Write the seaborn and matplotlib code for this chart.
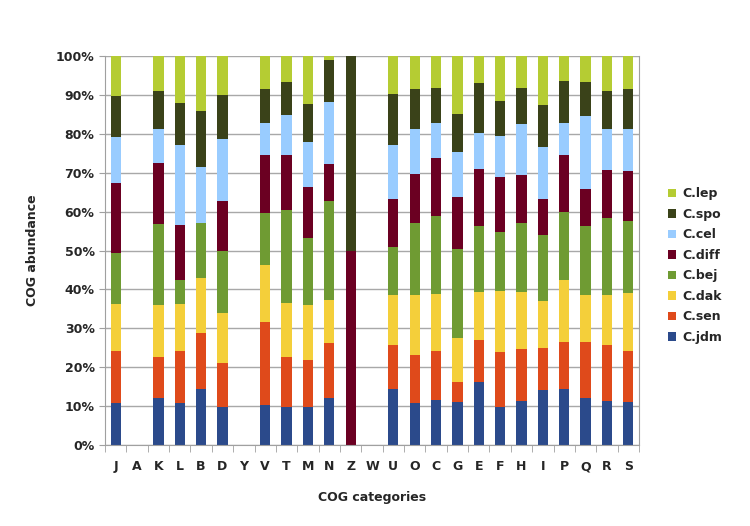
import pandas as pd
import matplotlib
matplotlib.use("Agg")
import matplotlib.pyplot as plt
from matplotlib.patches import Patch
import seaborn as sns

# COG categories (x axis)
categories = ["J", "A", "K", "L", "B", "D", "Y", "V", "T", "M", "N", "Z", "W",
              "U", "O", "C", "G", "E", "F", "H", "I", "P", "Q", "R", "S"]

# percent of each species per category
jdm  = [10.9, 0, 12.2, 10.9, 14.4,  9.8, 0, 10.3,  9.8,  9.8, 12.2,  0, 0, 14.4, 10.7, 11.5, 11.1, 16.1,  9.8, 11.4, 14.1, 14.4, 12.1, 11.4, 11.1]
sen  = [13.3, 0, 10.5, 13.3, 14.3, 11.4, 0, 21.4, 12.9, 12.1, 14.0,  0, 0, 11.3, 12.5, 12.7,  5.0, 10.8, 14.1, 13.2, 10.8, 12.1, 14.4, 14.3, 13.1]
dak  = [12.0, 0, 13.2, 12.0, 14.3, 12.8, 0, 14.7, 13.9, 14.0, 11.2,  0, 0, 12.8, 15.3, 14.7, 11.3, 12.4, 15.7, 14.7, 12.1, 15.9, 12.0, 12.8, 15.0]
bej  = [13.2, 0, 21.0,  6.1, 14.2, 15.8, 0, 13.2, 23.7, 17.3, 25.2,  0, 0, 12.4, 18.5, 19.9, 23.1, 16.9, 15.1, 17.7, 16.9, 17.5, 17.7, 19.9, 18.5]
diff = [18.0, 0, 15.7, 14.2,  0.0, 13.0, 0, 14.9, 14.2, 13.0,  9.7, 50, 0, 12.3, 12.7, 15.0, 13.2, 14.7, 14.3, 12.3,  9.3, 14.6,  9.7, 12.4, 12.7]
cel  = [11.7, 0,  8.7, 20.7, 14.3, 15.9, 0,  8.4, 10.3, 11.7, 15.8,  0, 0, 14.0, 11.6,  9.0, 11.6,  9.4, 10.5, 13.2, 13.3,  8.3, 18.8, 10.5, 10.9]
spo  = [10.5, 0,  9.7, 10.8, 14.4, 11.3, 0,  8.6,  8.5,  9.8, 10.9, 50, 0, 13.1, 10.2,  9.1,  9.8, 12.7,  9.0,  9.4, 10.9, 10.9,  8.6,  9.7, 10.2]
lep  = [10.4, 0,  9.0, 12.0, 14.1, 10.0, 0,  8.5,  6.7, 12.3,  1.0,  0, 0,  9.7,  8.5,  8.1, 14.9,  7.0, 11.5,  8.1, 12.6,  6.3,  6.7,  9.0,  8.5]

# legend order, top to bottom (histplot stacks the last level at the bottom)
species = ["C.lep", "C.spo", "C.cel", "C.diff", "C.bej", "C.dak", "C.sen", "C.jdm"]
colors = ["#B5CC33", "#3A4219", "#99CCFF", "#6B0022", "#6F9B33", "#F4CF3A", "#DF4A1B", "#2B4A8B"]
series = [lep, spo, cel, diff, bej, dak, sen, jdm]

rows = []
for name, vals in zip(species, series):
    for cat, v in zip(categories, vals):
        rows.append({"cat": cat, "species": name, "value": v})
df = pd.DataFrame(rows)
df["cat"] = pd.Categorical(df["cat"], categories=categories, ordered=True)
df["x"] = df["cat"].cat.codes

sns.set_style("white")
plt.rcParams["font.family"] = ["DejaVu Sans"]

fig = plt.figure(figsize=(7.5, 5.26), dpi=100)
ax = fig.add_axes([0.14, 0.154, 0.712, 0.7395])

sns.histplot(data=df, x="x", weights="value", hue="species", hue_order=species,
             palette=colors, multiple="stack", discrete=True, shrink=0.48,
             alpha=1, linewidth=0, legend=False, ax=ax)

ax.set_xlim(-0.5, len(categories) - 0.5)
ax.set_ylim(0, 100)
ax.set_yticks(range(0, 101, 10))
ax.set_yticklabels([f"{t}%" for t in range(0, 101, 10)], fontsize=9, fontweight="bold")
ax.set_xticks(range(len(categories)))
ax.set_xticklabels(categories, fontsize=9, fontweight="bold")
ax.tick_params(axis="x", length=0, pad=11)
ax.tick_params(axis="y", length=4, color="#A0A0A0", direction="out", left=True)

# tick marks between categories
ax.set_xticks([i - 0.5 for i in range(len(categories) + 1)], minor=True)
ax.tick_params(axis="x", which="minor", length=5, color="#A0A0A0", direction="out", bottom=True)

ax.grid(axis="y", color="#A8A8A8", linewidth=1)
ax.set_axisbelow(True)
for side in ["left", "bottom", "right"]:
    ax.spines[side].set_visible(True)
    ax.spines[side].set_color("#A0A0A0")
ax.spines["top"].set_visible(False)

ax.set_xlabel("COG categories", fontsize=9, fontweight="bold", labelpad=13)
ax.set_ylabel("COG abundance", fontsize=9, fontweight="bold", labelpad=12)

handles = [Patch(facecolor=c, edgecolor="none") for c in colors]
fig.legend(handles, species, loc="upper left", bbox_to_anchor=(0.875, 0.665),
           frameon=False, handlelength=0.7, handleheight=0.7, handletextpad=0.5,
           labelspacing=0.6, prop={"size": 9, "weight": "bold"})

fig.savefig("out.png", dpi=100)
